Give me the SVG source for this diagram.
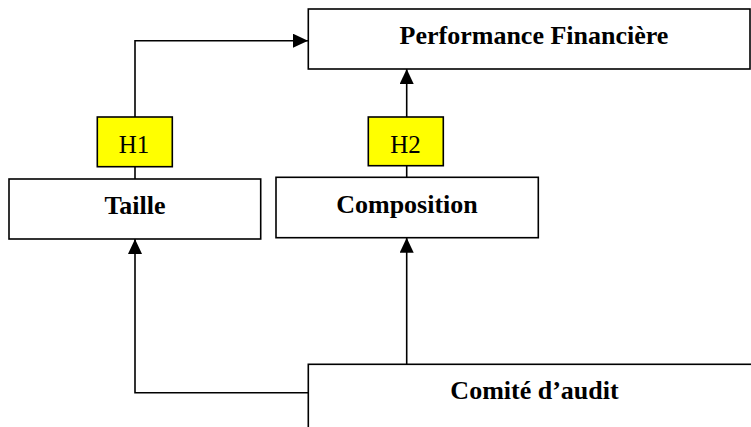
<svg xmlns="http://www.w3.org/2000/svg" width="751" height="427" viewBox="0 0 751 427">
  <style>
    .box { fill: #ffffff; stroke: #000000; stroke-width: 1.6; }
    .hyp { fill: #ffff00; stroke: #000000; stroke-width: 1.6; }
    .lbl { font-family: "Liberation Serif", "Times New Roman", serif; font-size: 26px; font-weight: bold; fill: #000000; text-anchor: middle; }
    .hlbl { font-family: "Liberation Serif", "Times New Roman", serif; font-size: 25px; fill: #000000; text-anchor: middle; }
    .conn { fill: none; stroke: #000000; stroke-width: 1.6; }
  </style>
  <defs>
    <marker id="arrow" markerUnits="userSpaceOnUse" markerWidth="16" markerHeight="14" refX="15" refY="7" orient="auto">
      <path d="M0,0 L15,7 L0,14 Z" fill="#000000"/>
    </marker>
  </defs>
  <rect width="751" height="427" fill="#ffffff"/>
  <g id="connectors">
    <path class="conn" d="M135,179 V167"/>
    <path class="conn" d="M135,117 V40.7 H308" marker-end="url(#arrow)"/>
    <path class="conn" d="M406.7,177.3 V166"/>
    <path class="conn" d="M406.7,117 V69" marker-end="url(#arrow)"/>
    <path class="conn" d="M308,392.7 H135 V239" marker-end="url(#arrow)"/>
    <path class="conn" d="M406.7,364 V237.7" marker-end="url(#arrow)"/>
  </g>
  <g id="performance">
    <rect class="box" x="308.3" y="9" width="441.7" height="60"/>
    <text class="lbl" x="534" y="44.3">Performance Financière</text>
  </g>
  <g id="h1">
    <rect class="hyp" x="97.3" y="117" width="75" height="49.7"/>
    <text class="hlbl" x="134" y="152.7">H1</text>
  </g>
  <g id="h2">
    <rect class="hyp" x="368.3" y="117" width="75" height="48.7"/>
    <text class="hlbl" x="405.5" y="152.7">H2</text>
  </g>
  <g id="taille">
    <rect class="box" x="9" y="179" width="251.7" height="60"/>
    <text class="lbl" x="135" y="214.3">Taille</text>
  </g>
  <g id="composition">
    <rect class="box" x="276" y="177.3" width="262.3" height="60.4"/>
    <text class="lbl" x="407" y="213">Composition</text>
  </g>
  <g id="comite">
    <rect class="box" x="308.3" y="364.3" width="460" height="100"/>
    <text class="lbl" x="534.5" y="399">Comité d’audit</text>
  </g>
</svg>
